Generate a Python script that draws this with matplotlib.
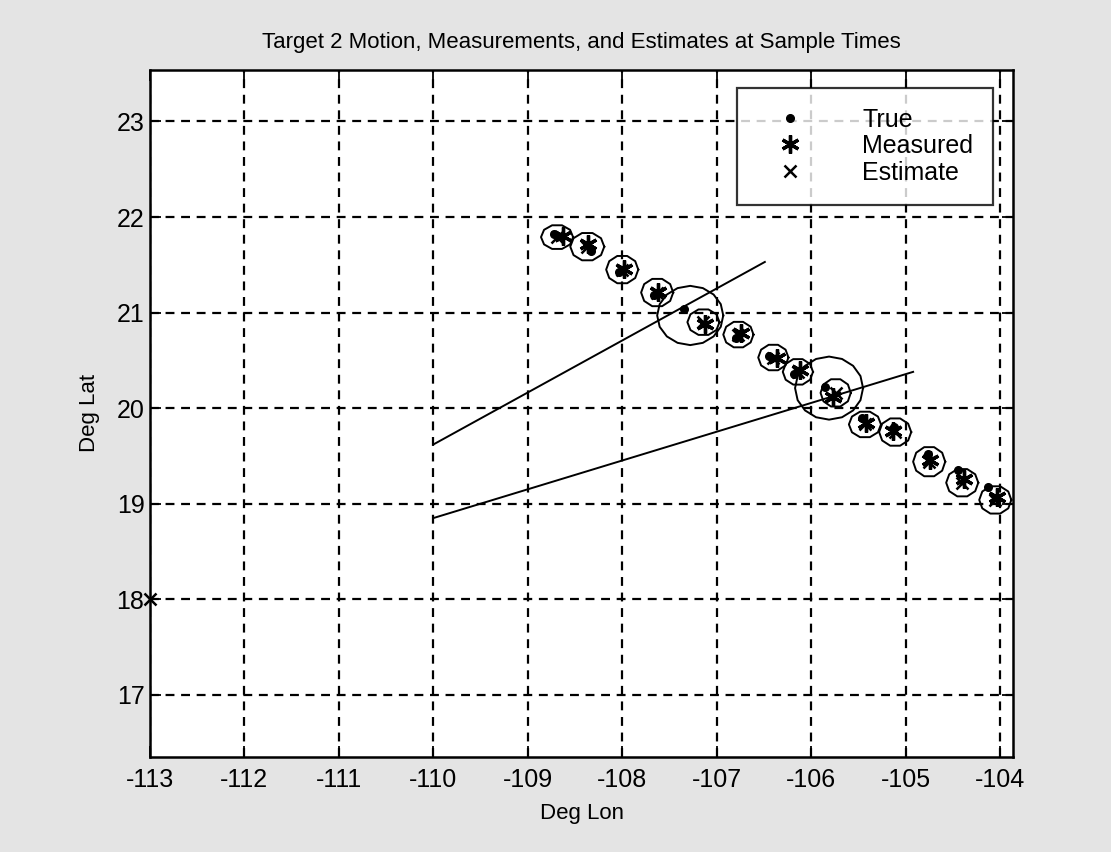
import matplotlib.pyplot as plt
import numpy as np

# estimate track (deg lon / deg lat)
est_lon = [-108.69, -108.37, -108.00, -107.63, -107.14, -106.77, -106.40,
           -106.14, -105.74, -105.43, -105.11, -104.75, -104.40, -104.05]
est_lat = [21.79, 21.69, 21.45, 21.21, 20.90, 20.77, 20.53,
           20.38, 20.16, 19.83, 19.75, 19.44, 19.22, 19.04]

# true positions
true_lon = [-108.72, -108.33, -108.03, -107.66, -107.35, -106.80, -106.45,
            -106.18, -105.85, -105.46, -105.12, -104.76, -104.45, -104.13]
true_lat = [21.82, 21.64, 21.42, 21.18, 21.04, 20.73, 20.55,
            20.36, 20.22, 19.90, 19.80, 19.52, 19.35, 19.18]

# measured positions
meas_lon = [-108.63, -108.36, -107.98, -107.62, -107.12, -106.74, -106.36,
            -106.12, -105.77, -105.42, -105.13, -104.74, -104.38, -104.03]
meas_lat = [21.80, 21.72, 21.46, 21.22, 20.88, 20.79, 20.53,
            20.40, 20.12, 19.84, 19.76, 19.46, 19.26, 19.07]

# error ellipse semi-axes around each estimate
ell_a = [0.17, 0.18, 0.17, 0.17, 0.17, 0.16, 0.16,
         0.16, 0.16, 0.17, 0.17, 0.17, 0.17, 0.17]
ell_b = [0.13, 0.15, 0.15, 0.15, 0.14, 0.14, 0.14,
         0.14, 0.15, 0.14, 0.15, 0.16, 0.15, 0.15]

# larger ellipses at the bearing-line fixes
big_lon = [-107.28, -105.81]
big_lat = [20.97, 20.21]
big_a = [0.35, 0.36]
big_b = [0.31, 0.33]

# initial estimate
init_lon = -113.0
init_lat = 18.0

# bearing lines
brg_lon = [[-110.0, -106.49], [-110.0, -104.92]]
brg_lat = [[19.62, 21.53], [18.85, 20.38]]

font = ['Liberation Sans', 'DejaVu Sans']
plt.rcParams['axes.unicode_minus'] = False

fig = plt.figure(figsize=(11.11, 8.52), dpi=100)
fig.patch.set_facecolor('#e4e4e4')
ax = fig.add_axes([0.135, 0.1115, 0.777, 0.8065])
ax.set_facecolor('white')

t = np.linspace(0, 2 * np.pi, 11)
for i in range(len(est_lon)):
    ax.plot(est_lon[i] + ell_a[i] * np.cos(t), est_lat[i] + ell_b[i] * np.sin(t),
            color='black', lw=1.4)
for i in range(len(big_lon)):
    tb = np.linspace(0, 2 * np.pi, 17)
    ax.plot(big_lon[i] + big_a[i] * np.cos(tb), big_lat[i] + big_b[i] * np.sin(tb),
            color='black', lw=1.4)

for i in range(len(brg_lon)):
    ax.plot(brg_lon[i], brg_lat[i], color='black', lw=1.4)

ax.plot(true_lon, true_lat, '.', color='black', ms=11, label='True')
ax.plot(meas_lon, meas_lat, ls='none', marker=(6, 2, 0), color='black',
        ms=13, mew=2.4, label='Measured')
ax.plot(est_lon + [init_lon], est_lat + [init_lat], 'x', color='black',
        ms=9, mew=1.8, label='Estimate', clip_on=False)

ax.set_xlim(-113, -103.86)
ax.set_ylim(16.35, 23.54)
ax.set_xticks(np.arange(-113, -103, 1))
ax.set_yticks(np.arange(17, 24, 1))
ax.grid(True, color='black', ls=(0, (4, 3)), lw=1.6)
ax.tick_params(direction='in', length=8, width=1.3, top=True, right=True,
               labelsize=18)
ax.tick_params(axis='x', pad=8)
ax.tick_params(axis='y', pad=4)
for lab in ax.get_xticklabels() + ax.get_yticklabels():
    lab.set_family(font)
for s in ax.spines.values():
    s.set_linewidth(1.8)

ax.set_title('Target 2 Motion, Measurements, and Estimates at Sample Times',
             family=font, fontsize=16, pad=16)
ax.set_xlabel('Deg Lon', family=font, fontsize=16, labelpad=8)
ax.set_ylabel('Deg Lat', family=font, fontsize=16, labelpad=12)

leg = ax.legend(loc='upper right', bbox_to_anchor=(0.977, 0.974),
                prop={'family': font, 'size': 18}, frameon=True, fancybox=False,
                handlelength=2.6, handletextpad=1.6, borderpad=0.8,
                labelspacing=0.1, borderaxespad=0)
leg.get_frame().set_edgecolor('black')
leg.get_frame().set_linewidth(1.6)

fig.savefig('out.png', dpi=100, facecolor=fig.get_facecolor())
